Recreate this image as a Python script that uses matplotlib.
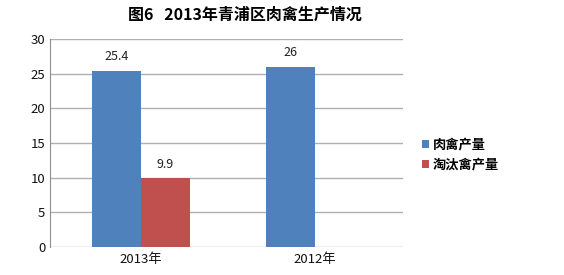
import matplotlib
matplotlib.use("Agg")
import matplotlib.pyplot as plt
import numpy as np

plt.rcParams['font.family'] = ['Noto Sans CJK SC', 'DejaVu Sans']

categories = ["2013年", "2012年"]
series_names = ["肉禽产量", "淘汰禽产量"]
meat = [25.4, 26]
culled = [9.9, None]
colors = ["#4F81BD", "#C0504D"]

fig = plt.figure(figsize=(5.64, 2.75), dpi=100)
ax = fig.add_axes([0.0887, 0.1018, 0.7145 - 0.0887, 0.858 - 0.1018])

x = np.arange(len(categories))
w = 0.282
series = [meat, culled]
for i, (name, vals, c) in enumerate(zip(series_names, series, colors)):
    xs = [xi + (i - 0.5) * w for xi, v in zip(x, vals) if v is not None]
    vs = [v for v in vals if v is not None]
    bars = ax.bar(xs, vs, width=w, color=c, label=name, zorder=3)
    for b, v in zip(bars, vs):
        ax.text(b.get_x() + b.get_width() / 2, v + 1.1, f"{v:g}", ha="center", va="bottom",
                fontsize=9, color="#222222")

ax.set_xlim(-0.523, 1.506)
ax.set_ylim(0, 30)
ax.set_yticks(range(0, 31, 5))
ax.set_xticks(x)
ax.set_xticklabels(categories)
ax.grid(axis="y", color="#B0B0B0", linewidth=1, zorder=0)
for s in ["top", "right", "bottom"]:
    ax.spines[s].set_visible(False)
ax.spines["left"].set_color("#909090")
ax.tick_params(axis="both", length=0, labelsize=9.5, colors="#111111")
ax.tick_params(axis="x", pad=4)

fig.text(0.434, 0.945, "图6   2013年青浦区肉禽生产情况", ha="center", va="center",
         fontsize=11.5, fontweight="bold")

leg = ax.legend(loc="center left", bbox_to_anchor=(1.02, 0.445), frameon=False,
                handlelength=0.5, handleheight=0.5, handletextpad=0.3,
                labelspacing=0.45, prop={'weight': 'bold', 'size': 9.5})

fig.savefig("out.png", dpi=100)
